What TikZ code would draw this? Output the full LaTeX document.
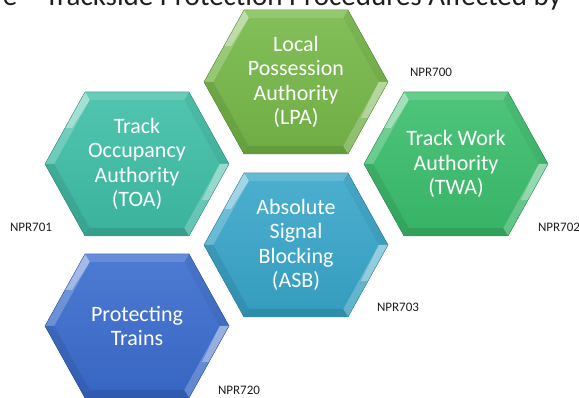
\documentclass[tikz,border=0pt]{standalone}
\usepackage{fontspec}
\setmainfont{Carlito}
\definecolor{cLPA}{RGB}{118,184,72}
\definecolor{cTOA}{RGB}{62,190,166}
\definecolor{cTWA}{RGB}{58,190,108}
\definecolor{cASB}{RGB}{56,166,202}
\definecolor{cPT}{RGB}{58,108,206}
\definecolor{labelgray}{RGB}{30,30,30}
\tikzset{
  hextext/.style={text=white,align=center,font=\fontsize{22}{24.5}\selectfont,inner sep=0pt},
  nprlabel/.style={text=labelgray,font=\fontsize{13}{15}\selectfont,inner sep=0pt},
  hexedge/.style={draw=#1!80!black,line width=0.3pt}
}
\newcommand\hexcell[5]{%
\begin{scope}[shift={(#2,#3)}]
 \fill[top color=#4!90!white, bottom color=#4!94!black]
   (-92,0)--(-52,72)--(52,72)--(92,0)--(52,-72)--(-52,-72)--cycle;
 \fill[white,opacity=.14] (-52,72)--(52,72)--(47.3,64)--(-47.3,64)--cycle;
 \fill[white,opacity=.22] (-92,0)--(-52,72)--(-47.3,64)--(-82.8,0)--cycle;
 \fill[white,opacity=.35] (-72,36)--(-52,72)--(-47.3,64)--(-65,36)--cycle;
 \fill[black,opacity=.05] (92,0)--(52,72)--(47.3,64)--(82.8,0)--cycle;
 \fill[white,opacity=.22] (92,0)--(52,-72)--(47.3,-64)--(82.8,0)--cycle;
 \fill[white,opacity=.30] (92,0)--(72,-36)--(65,-36)--(82.8,0)--cycle;
 \fill[black,opacity=.08] (-92,0)--(-52,-72)--(-47.3,-64)--(-82.8,0)--cycle;
 \fill[black,opacity=.10] (-52,-72)--(52,-72)--(47.3,-64)--(-47.3,-64)--cycle;
 \draw[hexedge=#4] (-92,0)--(-52,72)--(52,72)--(92,0)--(52,-72)--(-52,-72)--cycle;
 \node[hextext] (#1) at (0,0) {#5};
\end{scope}}
\begin{document}
\begin{tikzpicture}[x=1pt,y=1pt]
\useasboundingbox (0,0) rectangle (579,398);
\clip (0,0) rectangle (579,398);
\node[anchor=base east,text=labelgray,font=\fontsize{29}{33}\selectfont,inner sep=0pt] (title) at (562,392) {e -- Trackside Protection Procedures Affected by};
\hexcell{lpa}{296}{316}{cLPA}{Local\\Possession\\Authority\\(LPA)}
\hexcell{toa}{137}{234}{cTOA}{Track\\Occupancy\\Authority\\(TOA)}
\hexcell{twa}{456}{234}{cTWA}{Track Work\\Authority\\(TWA)}
\hexcell{asb}{296}{153}{cASB}{Absolute\\Signal\\Blocking\\(ASB)}
\hexcell{pt}{137}{72}{cPT}{Protecting\\Trains}
\node[nprlabel] (n700) at (431,326) {NPR700};
\node[nprlabel] (n701) at (31,171) {NPR701};
\node[nprlabel] (n702) at (559,171) {NPR702};
\node[nprlabel] (n703) at (398,91) {NPR703};
\node[nprlabel] (n720) at (239,8) {NPR720};
\end{tikzpicture}
\end{document}
